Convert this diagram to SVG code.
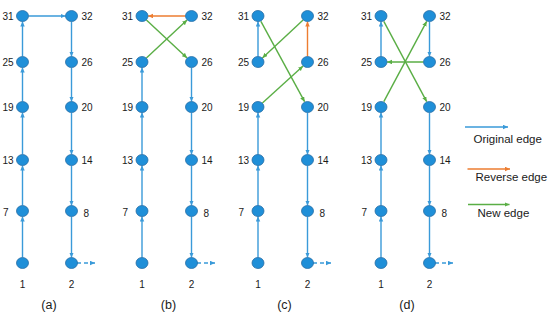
<svg xmlns="http://www.w3.org/2000/svg" width="550" height="315" viewBox="0 0 550 315">
<defs>
<style>
.n{fill:#1f8fd8;stroke:#2a6ea6;stroke-width:0.8}
.b{stroke:#3a9ad9;stroke-width:1.4;fill:none;marker-end:url(#ab)}
.o{stroke:#ed7d31;stroke-width:1.4;fill:none;marker-end:url(#ao)}
.g{stroke:#5aae45;stroke-width:1.4;fill:none;marker-end:url(#ag)}
.d{stroke:#3a9ad9;stroke-width:1.4;fill:none;stroke-dasharray:4 3;marker-end:url(#ab)}
text{font-family:"Liberation Sans",Arial,sans-serif;font-size:10px;fill:#1a1a1a}
.l{text-anchor:end}
.c{text-anchor:middle}
.p{font-size:12.5px;text-anchor:middle}
.lg{font-size:11.5px}
</style>
<marker id="ab" markerUnits="userSpaceOnUse" markerWidth="6" markerHeight="6" refX="5" refY="2.25" orient="auto"><path d="M0,0 L5,2.25 L0,4.5 z" fill="#3a9ad9"/></marker>
<marker id="ao" markerUnits="userSpaceOnUse" markerWidth="6" markerHeight="6" refX="5" refY="2.25" orient="auto"><path d="M0,0 L5,2.25 L0,4.5 z" fill="#ed7d31"/></marker>
<marker id="ag" markerUnits="userSpaceOnUse" markerWidth="6" markerHeight="6" refX="5" refY="2.25" orient="auto"><path d="M0,0 L5,2.25 L0,4.5 z" fill="#5aae45"/></marker>
</defs>
<rect width="550" height="315" fill="#ffffff"/>

<g id="connectors">
<!-- panel a -->
<line class="b" x1="22.5" y1="257.5" x2="22.5" y2="216.5"/>
<line class="b" x1="22.5" y1="205.5" x2="22.5" y2="165.5"/>
<line class="b" x1="22.5" y1="154.5" x2="22.5" y2="112.5"/>
<line class="b" x1="22.5" y1="101.5" x2="22.5" y2="67.5"/>
<line class="b" x1="22.5" y1="56.5" x2="22.5" y2="21.5"/>
<line class="b" x1="28.5" y1="16" x2="65.5" y2="16"/>
<line class="b" x1="71.5" y1="21.5" x2="71.5" y2="56.5"/>
<line class="b" x1="71.5" y1="67.5" x2="71.5" y2="101.5"/>
<line class="b" x1="71.5" y1="112.5" x2="71.5" y2="154.5"/>
<line class="b" x1="71.5" y1="165.5" x2="71.5" y2="205.5"/>
<line class="b" x1="71.5" y1="216.5" x2="71.5" y2="257.5"/>
<line class="d" x1="77" y1="263" x2="95" y2="263"/>
<!-- panel b -->
<line class="b" x1="142" y1="257.5" x2="142" y2="216.5"/>
<line class="b" x1="142" y1="205.5" x2="142" y2="165.5"/>
<line class="b" x1="142" y1="154.5" x2="142" y2="112.5"/>
<line class="b" x1="142" y1="101.5" x2="142" y2="67.5"/>
<line class="g" x1="146.4" y1="57.9" x2="187.1" y2="20.1"/>
<line class="o" x1="185.5" y1="16" x2="148" y2="16"/>
<line class="g" x1="146.4" y1="20.1" x2="187.1" y2="57.9"/>
<line class="b" x1="191.5" y1="67.5" x2="191.5" y2="101.5"/>
<line class="b" x1="191.5" y1="112.5" x2="191.5" y2="154.5"/>
<line class="b" x1="191.5" y1="165.5" x2="191.5" y2="205.5"/>
<line class="b" x1="191.5" y1="216.5" x2="191.5" y2="257.5"/>
<line class="d" x1="197" y1="263" x2="215" y2="263"/>
<!-- panel c -->
<line class="b" x1="258" y1="257.5" x2="258" y2="216.5"/>
<line class="b" x1="258" y1="205.5" x2="258" y2="165.5"/>
<line class="b" x1="258" y1="154.5" x2="258" y2="112.5"/>
<line class="b" x1="258" y1="56.5" x2="258" y2="21.5"/>
<line class="g" x1="260.9" y1="21.3" x2="304.6" y2="101.7"/>
<line class="g" x1="303.1" y1="20.1" x2="262.4" y2="57.9"/>
<line class="o" x1="307.5" y1="56.5" x2="307.5" y2="21.5"/>
<line class="g" x1="262.4" y1="102.9" x2="303.1" y2="66.1"/>
<line class="b" x1="307.5" y1="112.5" x2="307.5" y2="154.5"/>
<line class="b" x1="307.5" y1="165.5" x2="307.5" y2="205.5"/>
<line class="b" x1="307.5" y1="216.5" x2="307.5" y2="257.5"/>
<line class="d" x1="313" y1="263" x2="331" y2="263"/>
<!-- panel d -->
<line class="b" x1="381" y1="257.5" x2="381" y2="216.5"/>
<line class="b" x1="381" y1="205.5" x2="381" y2="165.5"/>
<line class="b" x1="381" y1="154.5" x2="381" y2="112.5"/>
<line class="b" x1="381" y1="56.5" x2="381" y2="21.5"/>
<line class="g" x1="383.8" y1="101.7" x2="426.7" y2="21.3"/>
<line class="g" x1="383.8" y1="21.3" x2="426.7" y2="101.7"/>
<line class="g" x1="423.5" y1="62" x2="387" y2="62"/>
<line class="b" x1="429.5" y1="21.5" x2="429.5" y2="56.5"/>
<line class="b" x1="429.5" y1="112.5" x2="429.5" y2="154.5"/>
<line class="b" x1="429.5" y1="165.5" x2="429.5" y2="205.5"/>
<line class="b" x1="429.5" y1="216.5" x2="429.5" y2="257.5"/>
<line class="d" x1="435" y1="263" x2="453" y2="263"/>
</g>

<g id="panel-a">
<g id="a31"><ellipse class="n" cx="22.5" cy="16" rx="6" ry="5.5"/><text class="l" x="13.5" y="19.5">31</text></g>
<g id="a25"><ellipse class="n" cx="22.5" cy="62" rx="6" ry="5.5"/><text class="l" x="13.5" y="65.5">25</text></g>
<g id="a19"><ellipse class="n" cx="22.5" cy="107" rx="6" ry="5.5"/><text class="l" x="13.5" y="110.5">19</text></g>
<g id="a13"><ellipse class="n" cx="22.5" cy="160" rx="6" ry="5.5"/><text class="l" x="13.5" y="163.5">13</text></g>
<g id="a7"><ellipse class="n" cx="22.5" cy="211" rx="6" ry="5.5"/><text class="l" x="8.5" y="215.5">7</text></g>
<g id="a1"><ellipse class="n" cx="22.5" cy="263" rx="6" ry="5.5"/><text class="c" x="22.5" y="287.5">1</text></g>
<g id="a32"><ellipse class="n" cx="71.5" cy="16" rx="6" ry="5.5"/><text x="81.5" y="19.5">32</text></g>
<g id="a26"><ellipse class="n" cx="71.5" cy="62" rx="6" ry="5.5"/><text x="81.5" y="65.5">26</text></g>
<g id="a20"><ellipse class="n" cx="71.5" cy="107" rx="6" ry="5.5"/><text x="81.5" y="110.5">20</text></g>
<g id="a14"><ellipse class="n" cx="71.5" cy="160" rx="6" ry="5.5"/><text x="81.5" y="163.5">14</text></g>
<g id="a8"><ellipse class="n" cx="71.5" cy="211" rx="6" ry="5.5"/><text x="83.5" y="217">8</text></g>
<g id="a2"><ellipse class="n" cx="71.5" cy="263" rx="6" ry="5.5"/><text class="c" x="71.5" y="287.5">2</text></g>
<text class="p" x="49" y="309">(a)</text>
</g>

<g id="panel-b">
<g id="b31"><ellipse class="n" cx="142" cy="16" rx="6" ry="5.5"/><text class="l" x="133" y="19.5">31</text></g>
<g id="b25"><ellipse class="n" cx="142" cy="62" rx="6" ry="5.5"/><text class="l" x="133" y="65.5">25</text></g>
<g id="b19"><ellipse class="n" cx="142" cy="107" rx="6" ry="5.5"/><text class="l" x="133" y="110.5">19</text></g>
<g id="b13"><ellipse class="n" cx="142" cy="160" rx="6" ry="5.5"/><text class="l" x="133" y="163.5">13</text></g>
<g id="b7"><ellipse class="n" cx="142" cy="211" rx="6" ry="5.5"/><text class="l" x="128" y="215.5">7</text></g>
<g id="b1"><ellipse class="n" cx="142" cy="263" rx="6" ry="5.5"/><text class="c" x="142" y="287.5">1</text></g>
<g id="b32"><ellipse class="n" cx="191.5" cy="16" rx="6" ry="5.5"/><text x="201.5" y="19.5">32</text></g>
<g id="b26"><ellipse class="n" cx="191.5" cy="62" rx="6" ry="5.5"/><text x="201.5" y="65.5">26</text></g>
<g id="b20"><ellipse class="n" cx="191.5" cy="107" rx="6" ry="5.5"/><text x="201.5" y="110.5">20</text></g>
<g id="b14"><ellipse class="n" cx="191.5" cy="160" rx="6" ry="5.5"/><text x="201.5" y="163.5">14</text></g>
<g id="b8"><ellipse class="n" cx="191.5" cy="211" rx="6" ry="5.5"/><text x="203.5" y="217">8</text></g>
<g id="b2"><ellipse class="n" cx="191.5" cy="263" rx="6" ry="5.5"/><text class="c" x="191.5" y="287.5">2</text></g>
<text class="p" x="168.5" y="309">(b)</text>
</g>

<g id="panel-c">
<g id="c31"><ellipse class="n" cx="258" cy="16" rx="6" ry="5.5"/><text class="l" x="249" y="19.5">31</text></g>
<g id="c25"><ellipse class="n" cx="258" cy="62" rx="6" ry="5.5"/><text class="l" x="249" y="65.5">25</text></g>
<g id="c19"><ellipse class="n" cx="258" cy="107" rx="6" ry="5.5"/><text class="l" x="249" y="110.5">19</text></g>
<g id="c13"><ellipse class="n" cx="258" cy="160" rx="6" ry="5.5"/><text class="l" x="249" y="163.5">13</text></g>
<g id="c7"><ellipse class="n" cx="258" cy="211" rx="6" ry="5.5"/><text class="l" x="244" y="215.5">7</text></g>
<g id="c1"><ellipse class="n" cx="258" cy="263" rx="6" ry="5.5"/><text class="c" x="258" y="287.5">1</text></g>
<g id="c32"><ellipse class="n" cx="307.5" cy="16" rx="6" ry="5.5"/><text x="317.5" y="19.5">32</text></g>
<g id="c26"><ellipse class="n" cx="307.5" cy="62" rx="6" ry="5.5"/><text x="317.5" y="65.5">26</text></g>
<g id="c20"><ellipse class="n" cx="307.5" cy="107" rx="6" ry="5.5"/><text x="317.5" y="110.5">20</text></g>
<g id="c14"><ellipse class="n" cx="307.5" cy="160" rx="6" ry="5.5"/><text x="317.5" y="163.5">14</text></g>
<g id="c8"><ellipse class="n" cx="307.5" cy="211" rx="6" ry="5.5"/><text x="319.5" y="217">8</text></g>
<g id="c2"><ellipse class="n" cx="307.5" cy="263" rx="6" ry="5.5"/><text class="c" x="307.5" y="287.5">2</text></g>
<text class="p" x="284.5" y="309">(c)</text>
</g>

<g id="panel-d">
<g id="d31"><ellipse class="n" cx="381" cy="16" rx="6" ry="5.5"/><text class="l" x="372" y="19.5">31</text></g>
<g id="d25"><ellipse class="n" cx="381" cy="62" rx="6" ry="5.5"/><text class="l" x="372" y="65.5">25</text></g>
<g id="d19"><ellipse class="n" cx="381" cy="107" rx="6" ry="5.5"/><text class="l" x="372" y="110.5">19</text></g>
<g id="d13"><ellipse class="n" cx="381" cy="160" rx="6" ry="5.5"/><text class="l" x="372" y="163.5">13</text></g>
<g id="d7"><ellipse class="n" cx="381" cy="211" rx="6" ry="5.5"/><text class="l" x="367" y="215.5">7</text></g>
<g id="d1"><ellipse class="n" cx="381" cy="263" rx="6" ry="5.5"/><text class="c" x="381" y="287.5">1</text></g>
<g id="d32"><ellipse class="n" cx="429.5" cy="16" rx="6" ry="5.5"/><text x="439.5" y="19.5">32</text></g>
<g id="d26"><ellipse class="n" cx="429.5" cy="62" rx="6" ry="5.5"/><text x="439.5" y="65.5">26</text></g>
<g id="d20"><ellipse class="n" cx="429.5" cy="107" rx="6" ry="5.5"/><text x="439.5" y="110.5">20</text></g>
<g id="d14"><ellipse class="n" cx="429.5" cy="160" rx="6" ry="5.5"/><text x="439.5" y="163.5">14</text></g>
<g id="d8"><ellipse class="n" cx="429.5" cy="211" rx="6" ry="5.5"/><text x="441.5" y="217">8</text></g>
<g id="d2"><ellipse class="n" cx="429.5" cy="263" rx="6" ry="5.5"/><text class="c" x="429.5" y="287.5">2</text></g>
<text class="p" x="407" y="309">(d)</text>
</g>

<g id="legend">
<line class="b" x1="465" y1="127" x2="508" y2="127"/>
<text class="lg" x="473.5" y="143">Original edge</text>
<line class="o" x1="467.5" y1="169" x2="510" y2="169"/>
<text class="lg" x="475.5" y="181">Reverse edge</text>
<line class="g" x1="468" y1="204.5" x2="509.5" y2="204.5"/>
<text class="lg" x="477.5" y="217">New edge</text>
</g>
</svg>
